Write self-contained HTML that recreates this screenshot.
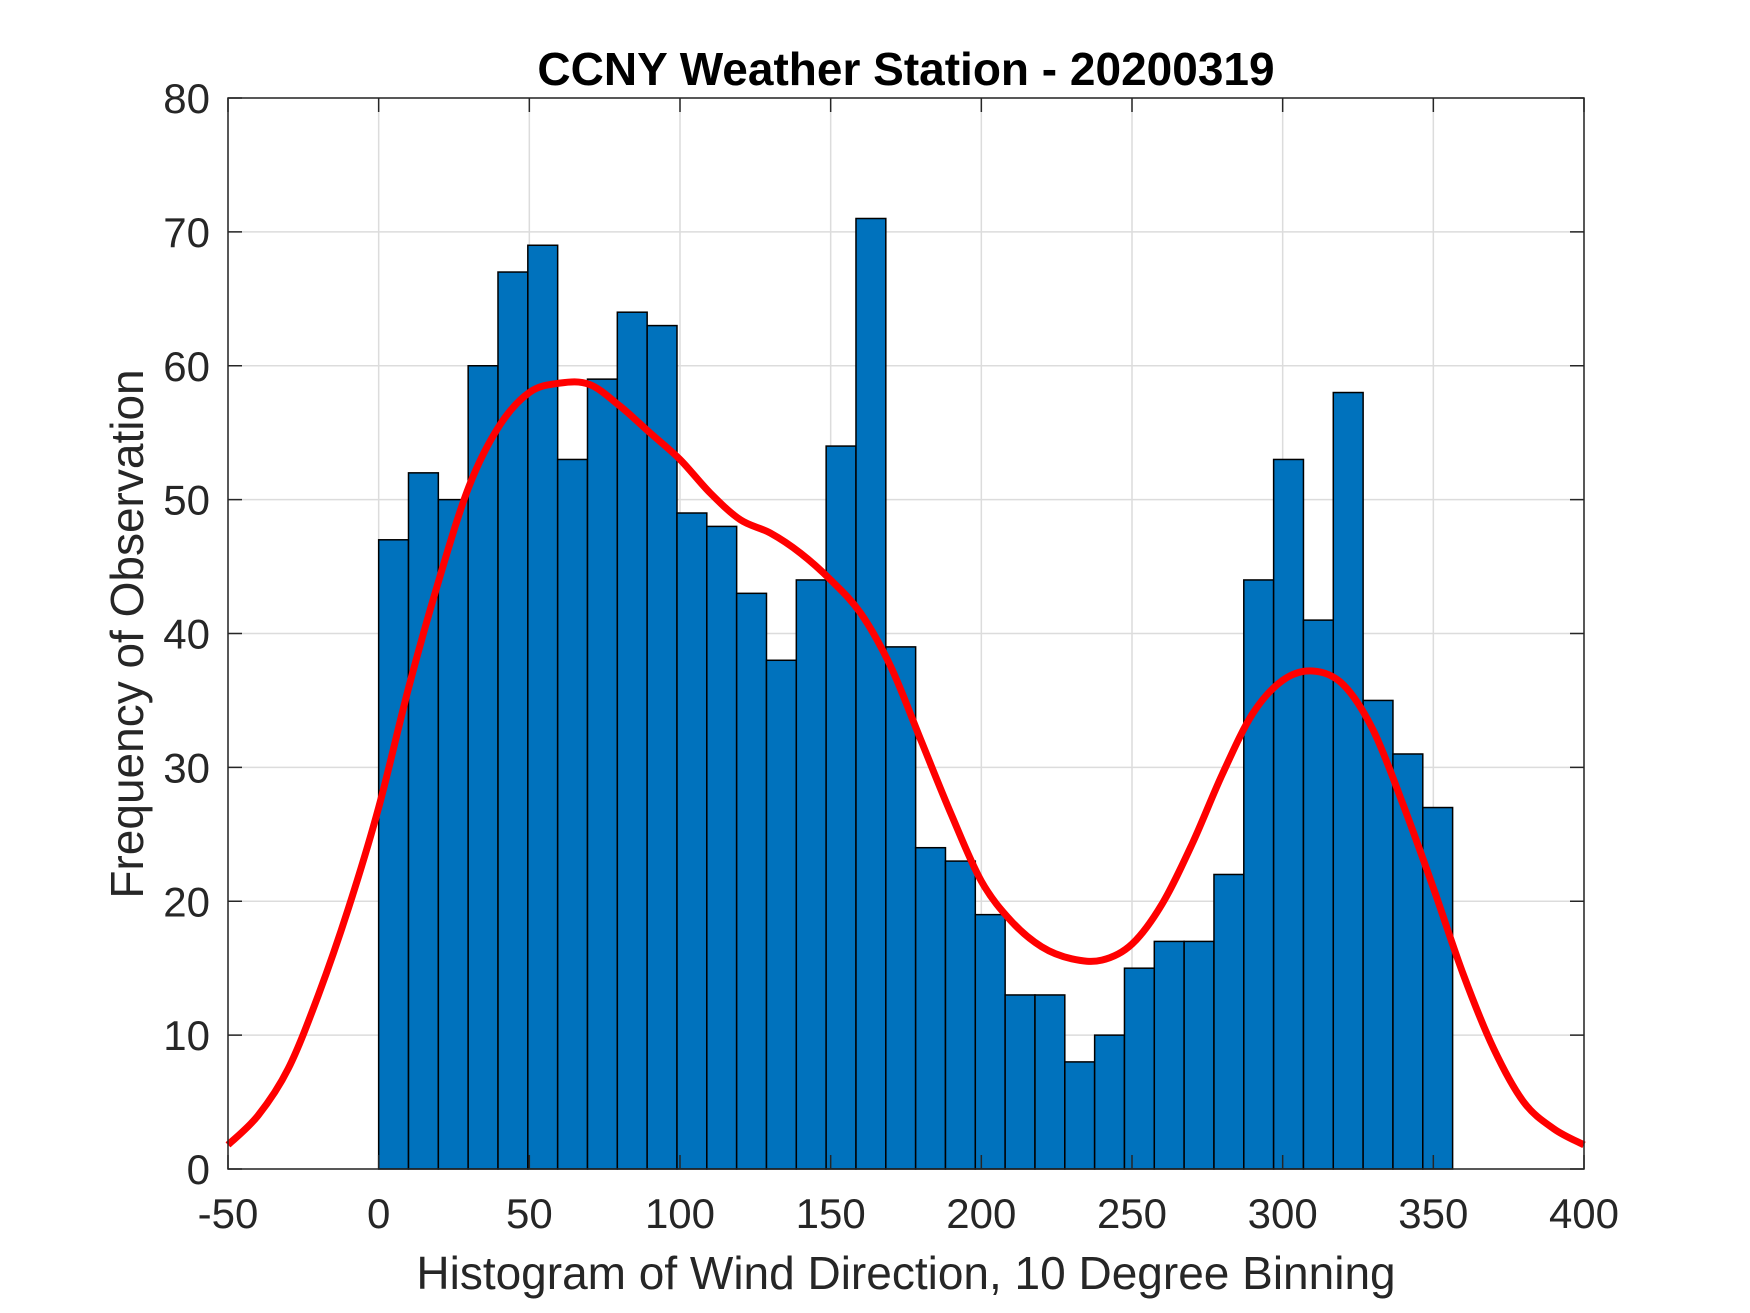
<!DOCTYPE html>
<html><head><meta charset="utf-8"><style>
html,body{margin:0;padding:0;background:#fff;}
svg{display:block;font-family:"Liberation Sans",Arial,sans-serif;}
</style></head><body>
<svg id="chart" width="1750" height="1313" viewBox="0 0 1750 1313" xmlns="http://www.w3.org/2000/svg">
<rect width="1750" height="1313" fill="#fff"/>
<g id="grid"></g>
<g id="bars"></g>
<path id="curve" fill="none" stroke="#ff0000" stroke-width="7" stroke-linejoin="round"/>
<rect x="228" y="98" width="1356" height="1071" fill="none" stroke="#262626" stroke-width="1.5"/>
<g id="ticks"></g>
<text x="906" y="85" text-anchor="middle" font-size="46" font-weight="bold" fill="#000">CCNY Weather Station - 20200319</text>
<text x="906" y="1289" text-anchor="middle" font-size="46" fill="#262626">Histogram of Wind Direction, 10 Degree Binning</text>
<text transform="translate(143,634) rotate(-90)" text-anchor="middle" font-size="46" fill="#262626">Frequency of Observation</text>
</svg>
<script>
const binStarts = [0,9.9,19.8,29.7,39.6,49.5,59.4,69.3,79.2,89.1,99,108.9,118.8,128.7,138.6,148.5,158.4,168.3,178.2,188.1,198,207.9,217.8,227.7,237.6,247.5,257.4,267.3,277.2,287.1,297,306.9,316.8,326.7,336.6,346.5];
const binCounts = [47,52,50,60,67,69,53,59,64,63,49,48,43,38,44,54,71,39,24,23,19,13,13,8,10,15,17,17,22,44,53,41,58,35,31,27];
const curveX = [-50,-40,-30,-20,-10,0,10,20,30,40,50,60,70,80,90,100,110,120,130,140,150,160,170,180,190,200,210,220,230,240,250,260,270,280,290,300,310,320,330,340,350,360,370,380,390,400];
const curveY = [1.8,4,7.5,13,19.5,27,36,44,51,55.5,58,58.7,58.6,57,55,53,50.5,48.5,47.5,46,44,41.5,37.5,32,26.5,21.5,18.5,16.6,15.7,15.6,16.8,19.8,24.3,29.5,34,36.5,37.2,36.2,32.8,27.2,21,14.5,9,5,3,1.8];
const xTicks = [-50,0,50,100,150,200,250,300,350,400];
const yTicks = [0,10,20,30,40,50,60,70,80];
const binWidth = 9.9;

const NS = "http://www.w3.org/2000/svg";
const L=228,R=1584,T=98,B=1169;
const sx = v => L + (v + 50) / 450 * (R - L);
const sy = v => B - v / 80 * (B - T);
function mk(tag, attrs, parent){const e=document.createElementNS(NS,tag);for(const k in attrs)e.setAttribute(k,attrs[k]);parent.appendChild(e);return e;}
const grid=document.getElementById('grid'), bars=document.getElementById('bars'), ticks=document.getElementById('ticks');

xTicks.forEach(t=>{
  const x=sx(t);
  const g=mk('line',{x1:x,x2:x,y1:T,y2:B,stroke:'#dcdcdc','stroke-width':1.5},grid);
  
  
  const a=mk('line',{x1:x,x2:x,y1:B,y2:B-14,stroke:'#262626','stroke-width':1.5},ticks);
  
  
  const b=mk('line',{x1:x,x2:x,y1:T,y2:T+14,stroke:'#262626','stroke-width':1.5},ticks);
  
  
  const tx=mk('text',{x:x,y:1228,'text-anchor':'middle','font-size':42,fill:'#262626'},ticks);
  tx.textContent=t;
  
  
});
yTicks.forEach(t=>{
  const y=sy(t);
  const g=mk('line',{x1:L,x2:R,y1:y,y2:y,stroke:'#dcdcdc','stroke-width':1.5},grid);
  
  
  const a=mk('line',{x1:L,x2:L+14,y1:y,y2:y,stroke:'#262626','stroke-width':1.5},ticks);
  
  
  const b=mk('line',{x1:R,x2:R-14,y1:y,y2:y,stroke:'#262626','stroke-width':1.5},ticks);
  
  
  const tx=mk('text',{x:210,y:y+15,'text-anchor':'end','font-size':42,fill:'#262626'},ticks);
  tx.textContent=t;
  
  
});
binStarts.forEach((s,i)=>{
  const x0=sx(s), x1=sx(s+binWidth), y=sy(binCounts[i]);
  const r=mk('rect',{x:x0,y:y,width:x1-x0,height:B-y,fill:'#0072BD',stroke:'#000','stroke-width':1.5},bars);
  
  
});
const P=curveX.map((x,i)=>[sx(x),sy(curveY[i])]);
let d='M'+P[0][0]+','+P[0][1];
for(let i=0;i<P.length-1;i++){
  const p0=P[Math.max(0,i-1)],p1=P[i],p2=P[i+1],p3=P[Math.min(P.length-1,i+2)];
  const c1=[p1[0]+(p2[0]-p0[0])/6,p1[1]+(p2[1]-p0[1])/6];
  const c2=[p2[0]-(p3[0]-p1[0])/6,p2[1]-(p3[1]-p1[1])/6];
  d+=' C'+c1[0]+','+c1[1]+' '+c2[0]+','+c2[1]+' '+p2[0]+','+p2[1];
}
document.getElementById('curve').setAttribute('d',d);
</script>
</body></html>
